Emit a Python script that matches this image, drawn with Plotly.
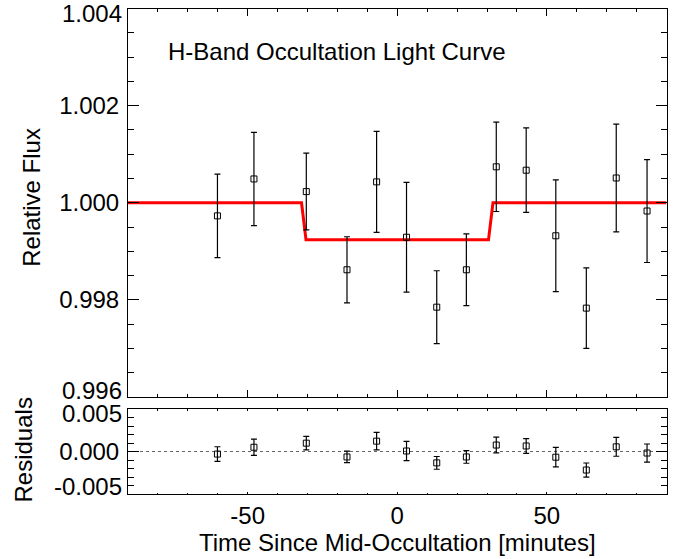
import plotly.graph_objects as go

# ---- data ----
time_min = [-60.1, -47.9, -30.4, -16.8, -6.9, 3.1, 13.2, 23.1, 33.1, 43.1, 53.0, 63.2, 73.2, 83.5]
flux = [0.99973, 1.00049, 1.00023, 0.99862, 1.00043, 0.99929, 0.99785,
        0.99862, 1.00074, 1.00067, 0.99932, 0.99783, 1.00051, 0.99983]
flux_err = [0.00086, 0.00096, 0.00079, 0.00068, 0.00104, 0.00113, 0.00075,
            0.00074, 0.00092, 0.00087, 0.00115, 0.00083, 0.00111, 0.00106]
residuals = [-0.00030, 0.00050, 0.00098, -0.00064, 0.00122, 0.00006, -0.00134,
             -0.00064, 0.00076, 0.00065, -0.00067, -0.00218, 0.00055, -0.00018]
model_time = [-90, -32.0, -30.5, 30.5, 32.0, 90]
model_flux = [1.0, 1.0, 0.99924, 0.99924, 1.0, 1.0]

x_tickvals = [-50, 0, 50]
x_ticktext = ["-50", "0", "50"]
y_tickvals = [0.996, 0.998, 1.000, 1.002, 1.004]
y_ticktext = ["0.996", "0.998", "1.000", "1.002", "1.004"]
r_tickvals = [-0.005, 0.0, 0.005]
r_ticktext = ["-0.005", "0.000", "0.005"]

title_text = "H-Band Occultation Light Curve"
xlabel = "Time Since Mid-Occultation [minutes]"
ylabel_top = "Relative Flux"
ylabel_bot = "Residuals"

W, H = 685, 559
FONT = "Liberation Sans, Arial, Helvetica, sans-serif"
FS = 24

# panel pixel geometry
L, R = 128.0, 666.5
T1, B1 = 8.5, 397.0
T2, B2 = 409.0, 494.0

def px(x):
    return x / W

def py(y):
    return 1 - y / H

fig = go.Figure()

# model
fig.add_trace(go.Scatter(x=model_time, y=model_flux, mode="lines",
                         line=dict(color="#ff0000", width=3),
                         xaxis="x", yaxis="y", showlegend=False, hoverinfo="skip"))
# data
fig.add_trace(go.Scatter(x=time_min, y=flux, mode="markers",
                         marker=dict(symbol="square-open", size=6, color="black",
                                     line=dict(width=1, color="black")),
                         error_y=dict(type="data", array=flux_err, visible=True,
                                      color="black", thickness=1.2, width=3),
                         xaxis="x", yaxis="y", showlegend=False))
# zero line in residual panel
fig.add_trace(go.Scatter(x=[-90, 90], y=[0, 0], mode="lines",
                         line=dict(color="#666666", width=1, dash="dot"),
                         xaxis="x2", yaxis="y2", showlegend=False, hoverinfo="skip"))
# residuals
fig.add_trace(go.Scatter(x=time_min, y=residuals, mode="markers",
                         marker=dict(symbol="square-open", size=6, color="black",
                                     line=dict(width=1, color="black")),
                         error_y=dict(type="data", array=flux_err, visible=True,
                                      color="black", thickness=1.2, width=3),
                         xaxis="x2", yaxis="y2", showlegend=False))

axis_common = dict(showline=True, linecolor="black", linewidth=1, mirror="ticks",
                   ticks="inside", tickcolor="black", showgrid=False, zeroline=False,
                   automargin=False, ticklabeloverflow="allow",
                   tickfont=dict(family=FONT, size=FS, color="black"))

# interior labels drawn by the axes, edge labels (nudged inward like the reference) as annotations
y_axis_text = [t if v not in (0.996, 1.004) else "" for v, t in zip(y_tickvals, y_ticktext)]
r_axis_text = [t if v == 0.0 else "" for v, t in zip(r_tickvals, r_ticktext)]

fig.update_layout(
    width=W, height=H,
    margin=dict(l=0, r=0, t=0, b=0, pad=0, autoexpand=False),
    paper_bgcolor="white", plot_bgcolor="white",
    font=dict(family=FONT, size=FS, color="black"),
    xaxis=dict(domain=[px(L), px(R)], range=[-90, 90], anchor="y",
               tickmode="array", tickvals=x_tickvals, ticktext=x_ticktext,
               showticklabels=False, ticklen=7, tickwidth=1,
               minor=dict(dtick=10, tick0=0, ticks="inside", ticklen=3.5,
                          tickcolor="black", tickwidth=1, showgrid=False),
               **axis_common),
    yaxis=dict(domain=[py(B1), py(T1)], range=[0.996, 1.004], anchor="x",
               tickmode="array", tickvals=y_tickvals, ticktext=y_axis_text,
               ticklen=11, tickwidth=1, ticklabelstandoff=3,
               minor=dict(dtick=0.0005, tick0=0.996, ticks="inside", ticklen=6,
                          tickcolor="black", tickwidth=1, showgrid=False),
               **axis_common),
    xaxis2=dict(domain=[px(L), px(R)], range=[-90, 90], anchor="y2",
                tickmode="array", tickvals=x_tickvals, ticktext=x_ticktext,
                ticklen=2, tickwidth=1, ticklabelstandoff=0,
                minor=dict(dtick=10, tick0=0, ticks="inside", ticklen=1.5,
                           tickcolor="black", tickwidth=1, showgrid=False),
                **axis_common),
    yaxis2=dict(domain=[py(B2), py(T2)], range=[-0.005, 0.005], anchor="x2",
                tickmode="array", tickvals=r_tickvals, ticktext=r_axis_text,
                ticklen=11, tickwidth=1, ticklabelstandoff=3,
                minor=dict(dtick=0.001, tick0=0, ticks="inside", ticklen=6,
                           tickcolor="black", tickwidth=1, showgrid=False),
                **axis_common),
)

edge_shift = {0.996: 7, 1.004: -5}
r_edge_shift = {0.005: -4, -0.005: 8}

annotations = [
    dict(text=title_text, x=px(166), y=py(52), xref="paper", yref="paper",
         xanchor="left", yanchor="middle", showarrow=False,
         font=dict(family=FONT, size=FS, color="black")),
    dict(text=xlabel, x=px((L + R) / 2), y=py(542), xref="paper", yref="paper",
         xanchor="center", yanchor="middle", showarrow=False,
         font=dict(family=FONT, size=FS, color="black")),
    dict(text=ylabel_top, x=px(32), y=py((T1 + B1) / 2 - 5), xref="paper", yref="paper",
         xanchor="center", yanchor="middle", showarrow=False, textangle=-90,
         font=dict(family=FONT, size=FS, color="black")),
    dict(text=ylabel_bot, x=px(23), y=py((T2 + B2) / 2 - 1), xref="paper", yref="paper",
         xanchor="center", yanchor="middle", showarrow=False, textangle=-90,
         font=dict(family=FONT, size=FS, color="black")),
]
for v, t in zip(y_tickvals, y_ticktext):
    if v in edge_shift:
        annotations.append(dict(text=t, x=px(L - 6), y=v, xref="paper", yref="y",
                                xanchor="right", yanchor="middle", yshift=edge_shift[v],
                                showarrow=False, borderpad=0, borderwidth=0,
                                font=dict(family=FONT, size=FS, color="black")))
for v, t in zip(r_tickvals, r_ticktext):
    if v in r_edge_shift:
        annotations.append(dict(text=t, x=px(L - 6), y=v, xref="paper", yref="y2",
                                xanchor="right", yanchor="middle", yshift=r_edge_shift[v],
                                showarrow=False, borderpad=0, borderwidth=0,
                                font=dict(family=FONT, size=FS, color="black")))
fig.update_layout(annotations=annotations)

fig.write_html("out.html")
